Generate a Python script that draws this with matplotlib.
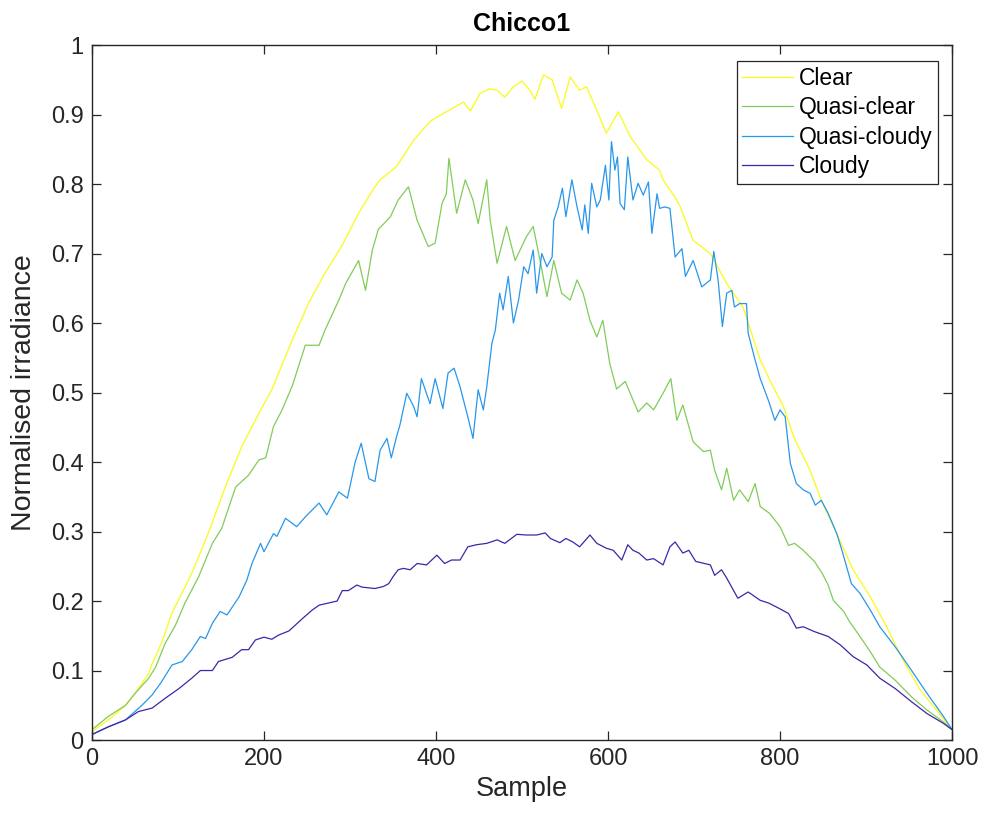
import matplotlib
matplotlib.use('Agg')
import matplotlib.pyplot as plt

# values (sample index, normalised irradiance)
clear_x = [0, 20, 39, 50, 66, 70, 81, 93, 116, 136, 155, 174, 194, 209, 233, 252, 271,
           291, 310, 329, 335, 349, 354, 374, 393, 412, 432, 440, 451, 462, 471,
           480, 490, 500, 509, 515, 525, 535, 546, 556, 567, 575, 587, 598, 612,
           626, 645, 660, 664, 680, 684, 699, 719, 738, 757, 777, 788, 804, 816,
           835, 848, 866, 885, 905, 924, 943, 963, 982, 1000]
clear_y = [0.012, 0.03, 0.05, 0.067, 0.096, 0.11, 0.14, 0.183, 0.24, 0.30, 0.364, 0.422,
           0.47, 0.504, 0.576, 0.629, 0.672, 0.712, 0.758, 0.796, 0.806, 0.82,
           0.825, 0.863, 0.89, 0.904, 0.918, 0.905, 0.93, 0.937, 0.935, 0.925,
           0.94, 0.948, 0.935, 0.922, 0.957, 0.95, 0.909, 0.954, 0.935, 0.94,
           0.906, 0.873, 0.904, 0.868, 0.835, 0.82, 0.806, 0.777, 0.767, 0.719,
           0.70, 0.657, 0.623, 0.547, 0.518, 0.48, 0.436, 0.388, 0.345, 0.297,
           0.245, 0.206, 0.163, 0.115, 0.072, 0.043, 0.015]

qclear_x = [0, 19, 39, 50, 66, 74, 85, 97, 108, 124, 140, 151, 167, 182, 194, 202,
            211, 221, 233, 248, 264, 271, 287, 295, 310, 318, 326, 333, 341, 347,
            356, 368, 378, 391, 399, 407, 412, 415, 424, 434, 443, 449, 459, 463,
            471, 482, 492, 505, 513, 521, 529, 537, 546, 556, 564, 571, 579, 587,
            594, 602, 610, 620, 635, 645, 653, 664, 673, 680, 687, 699, 711, 719,
            724, 732, 738, 746, 753, 763, 771, 777, 788, 800, 810, 817, 827, 840,
            849, 856, 862, 874, 881, 893, 905, 916, 934, 953, 971, 990, 1000]
qclear_y = [0.015, 0.034, 0.05, 0.067, 0.089, 0.105, 0.139, 0.165, 0.197, 0.235,
            0.283, 0.305, 0.364, 0.381, 0.403, 0.406, 0.451, 0.475, 0.51, 0.568,
            0.568, 0.59, 0.633, 0.657, 0.69, 0.647, 0.705, 0.735, 0.745, 0.753,
            0.777, 0.796, 0.748, 0.71, 0.715, 0.772, 0.786, 0.837, 0.758, 0.806,
            0.777, 0.743, 0.806, 0.748, 0.686, 0.739, 0.69, 0.724, 0.739, 0.69,
            0.638, 0.69, 0.643, 0.633, 0.662, 0.643, 0.604, 0.58, 0.604, 0.542,
            0.505, 0.516, 0.472, 0.485, 0.475, 0.499, 0.52, 0.46, 0.482, 0.429,
            0.415, 0.417, 0.388, 0.36, 0.391, 0.345, 0.36, 0.343, 0.369, 0.336,
            0.326, 0.307, 0.28, 0.283, 0.273, 0.257, 0.24, 0.223, 0.201, 0.185,
            0.17, 0.149, 0.127, 0.105, 0.086, 0.062, 0.043, 0.026, 0.015]

qcloudy_x = [0, 19, 39, 58, 70, 81, 93, 105, 116, 126, 132, 140, 149, 157, 171,
             180, 186, 196, 200, 211, 215, 225, 238, 248, 264, 273, 287, 297, 306,
             313, 322, 329, 335, 343, 348, 354, 358, 366, 374, 378, 383, 393, 399,
             408, 414, 421, 428, 432, 437, 443, 449, 455, 459, 465, 469, 474, 478,
             484, 490, 496, 502, 507, 513, 517, 523, 529, 535, 537, 542, 547, 551,
             558, 564, 570, 573, 577, 581, 587, 591, 597, 601, 604, 608, 611, 614,
             619, 623, 629, 635, 641, 647, 651, 657, 660, 666, 672, 678, 686, 690,
             699, 709, 719, 723, 728, 733, 738, 744, 747, 753, 761, 763, 771, 777,
             787, 794, 800, 806, 812, 819, 827, 835, 841, 848, 856, 866, 872, 883,
             893, 905, 916, 934, 953, 971, 990, 1000]
qcloudy_y = [0.008, 0.019, 0.029, 0.05, 0.065, 0.084, 0.108, 0.113, 0.13, 0.149,
             0.146, 0.168, 0.185, 0.18, 0.206, 0.23, 0.254, 0.283, 0.271, 0.297,
             0.293, 0.319, 0.307, 0.321, 0.341, 0.324, 0.357, 0.348, 0.40, 0.427,
             0.376, 0.372, 0.417, 0.434, 0.406, 0.436, 0.453, 0.499, 0.48, 0.465,
             0.52, 0.484, 0.52, 0.477, 0.528, 0.535, 0.508, 0.489, 0.465, 0.434,
             0.504, 0.475, 0.508, 0.571, 0.59, 0.643, 0.619, 0.667, 0.60, 0.633,
             0.681, 0.671, 0.705, 0.643, 0.70, 0.681, 0.695, 0.748, 0.767, 0.794,
             0.753, 0.806, 0.767, 0.734, 0.77, 0.729, 0.801, 0.767, 0.777, 0.827,
             0.777, 0.861, 0.82, 0.839, 0.772, 0.763, 0.839, 0.777, 0.801, 0.784,
             0.803, 0.729, 0.786, 0.765, 0.767, 0.765, 0.695, 0.707, 0.667, 0.69,
             0.652, 0.662, 0.703, 0.662, 0.595, 0.643, 0.647, 0.623, 0.628, 0.628,
             0.585, 0.547, 0.52, 0.487, 0.46, 0.475, 0.465, 0.398, 0.369, 0.36,
             0.355, 0.338, 0.345, 0.326, 0.297, 0.273, 0.225, 0.211, 0.187, 0.163,
             0.134, 0.10, 0.067, 0.034, 0.015]

cloudy_x = [0, 19, 39, 54, 70, 85, 101, 116, 126, 140, 147, 163, 174, 182, 190,
            200, 209, 217, 229, 244, 256, 264, 271, 285, 291, 298, 308, 314, 329,
            339, 345, 350, 356, 362, 370, 378, 389, 401, 410, 418, 428, 437, 447,
            459, 471, 480, 494, 505, 517, 527, 533, 544, 551, 559, 567, 579, 587,
            598, 606, 616, 623, 629, 636, 645, 653, 664, 672, 678, 687, 694, 702,
            719, 724, 732, 738, 751, 763, 777, 787, 798, 810, 819, 827, 840, 856,
            870, 885, 901, 916, 934, 953, 971, 990, 1000]
cloudy_y = [0.008, 0.019, 0.029, 0.041, 0.046, 0.06, 0.074, 0.089, 0.10, 0.10,
            0.113, 0.119, 0.13, 0.13, 0.144, 0.148, 0.145, 0.151, 0.157, 0.174,
            0.187, 0.194, 0.196, 0.20, 0.215, 0.215, 0.223, 0.22, 0.218, 0.221,
            0.225, 0.235, 0.245, 0.247, 0.245, 0.254, 0.252, 0.266, 0.254, 0.259,
            0.259, 0.278, 0.281, 0.283, 0.288, 0.283, 0.296, 0.295, 0.295, 0.298,
            0.29, 0.284, 0.29, 0.285, 0.278, 0.295, 0.283, 0.276, 0.273, 0.259,
            0.281, 0.273, 0.269, 0.259, 0.261, 0.252, 0.278, 0.285, 0.269, 0.273,
            0.257, 0.252, 0.237, 0.245, 0.233, 0.204, 0.213, 0.201, 0.197, 0.19,
            0.182, 0.161, 0.163, 0.156, 0.149, 0.137, 0.12, 0.108, 0.089, 0.074,
            0.055, 0.038, 0.024, 0.015]

labels = ['Clear', 'Quasi-clear', 'Quasi-cloudy', 'Cloudy']

# parula(4) colours
COLORS = [(0.9769, 0.9839, 0.0805), (0.5044, 0.7993, 0.3480),
          (0.1540, 0.5902, 0.9218), (0.2422, 0.1504, 0.6603)]
TEXT_COLOR = '#262626'

plt.rcParams['font.family'] = ['Liberation Sans', 'DejaVu Sans']

fig = plt.figure(figsize=(9.84, 8.17), dpi=100)
ax = fig.add_axes([0.0935, 0.0942, 0.874, 0.8507])

series = [(clear_x, clear_y), (qclear_x, qclear_y),
          (qcloudy_x, qcloudy_y), (cloudy_x, cloudy_y)]
for (xs, ys), lab, col in zip(series, labels, COLORS):
    ax.plot(xs, ys, color=col, linewidth=0.9, label=lab)

ax.set_xlim(0, 1000)
ax.set_ylim(0, 1)
ax.set_xticks(range(0, 1001, 200))
ax.set_yticks([i / 10 for i in range(11)])
ax.set_yticklabels(['0'] + ['%.1f' % (i / 10) for i in range(1, 10)] + ['1'])

ax.tick_params(direction='in', length=6.5, width=0.9, top=True, right=True,
               labelsize=17, colors=TEXT_COLOR, pad=6)
for sp in ax.spines.values():
    sp.set_color(TEXT_COLOR)
    sp.set_linewidth(1.0)

ax.set_xlabel('Sample', fontsize=19.5, color=TEXT_COLOR, labelpad=4)
ax.set_ylabel('Normalised irradiance', fontsize=20.5, color=TEXT_COLOR, labelpad=10)
ax.set_title('Chicco1', fontsize=18, fontweight='bold', color='black', pad=10)

leg = ax.legend(loc='upper right', bbox_to_anchor=(0.9837, 0.977), borderaxespad=0,
                fontsize=16.5, fancybox=False, framealpha=1, edgecolor=TEXT_COLOR,
                handlelength=2.2, handletextpad=0.25, labelspacing=0.28,
                borderpad=0.25)
leg.get_frame().set_linewidth(0.9)
for t in leg.get_texts():
    t.set_color('black')

fig.savefig('out.png', dpi=100)
